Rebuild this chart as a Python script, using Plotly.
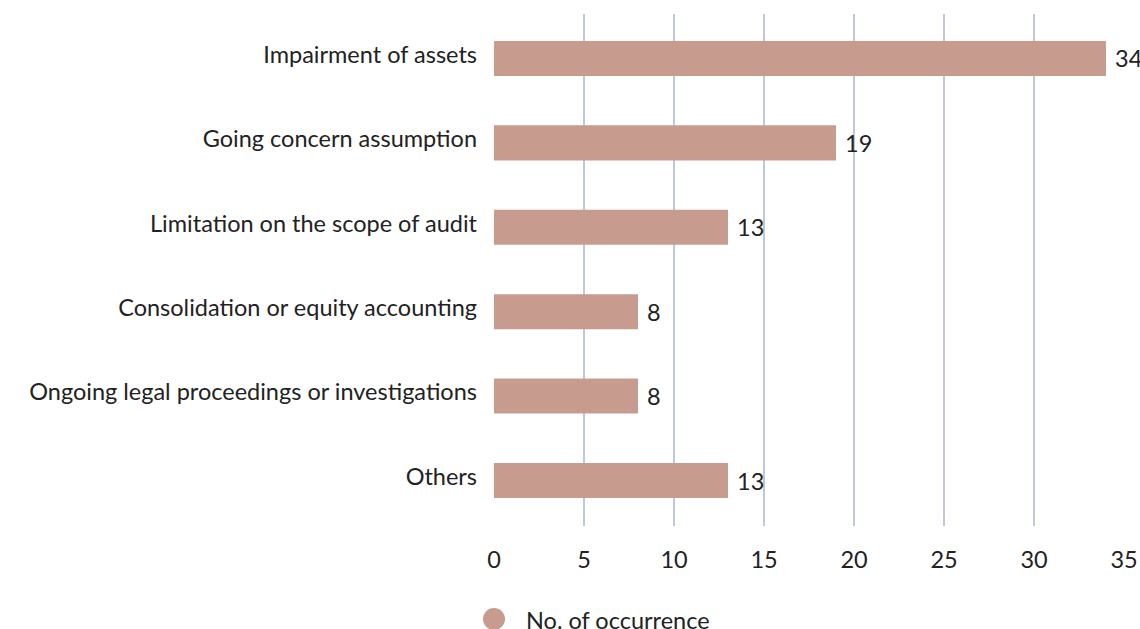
import plotly.graph_objects as go

categories = [
    "Impairment of assets",
    "Going concern assumption",
    "Limitation on the scope of audit",
    "Consolidation or equity accounting",
    "Ongoing legal proceedings or investigations",
    "Others",
]
occurrences = [34, 19, 13, 8, 8, 13]
series_name = "No. of occurrence"
x_ticks = [0, 5, 10, 15, 20, 25, 30, 35]

BAR_COLOR = "#c89b8f"
GRID_COLOR = "#bfc8d7"
TEXT_COLOR = "#222222"
FONT = "Lato, 'Open Sans', sans-serif"
FS = 23.5

fig = go.Figure()
fig.add_trace(go.Bar(
    y=categories,
    x=occurrences,
    orientation="h",
    marker=dict(color=BAR_COLOR, line=dict(width=0)),
    width=0.415,
    text=["\u00a0" + str(v) for v in occurrences],
    textposition="outside",
    textfont=dict(size=FS, color=TEXT_COLOR, family=FONT),
    cliponaxis=False,
    name=series_name,
    showlegend=False,
))

fig.update_layout(
    width=1140,
    height=629,
    margin=dict(l=494, r=16, t=14, b=103, autoexpand=False),
    paper_bgcolor="white",
    plot_bgcolor="white",
    font=dict(family=FONT, size=FS, color=TEXT_COLOR),
    xaxis=dict(
        range=[0, 35],
        tickvals=x_ticks,
        showgrid=True,
        gridcolor=GRID_COLOR,
        gridwidth=1.5,
        zeroline=False,
        showline=False,
        ticks="",
        automargin=False,
        ticklabelstandoff=17,
        tickfont=dict(size=FS, color=TEXT_COLOR),
    ),
    yaxis=dict(
        categoryorder="array",
        categoryarray=categories,
        range=[5.539, -0.527],
        showgrid=False,
        zeroline=False,
        showline=False,
        ticks="",
        automargin=False,
        ticklabelstandoff=16,
        ticklabelshift=4,
        tickfont=dict(size=FS, color=TEXT_COLOR),
    ),
)

# Legend entry: round swatch plus series name below the axis
fig.add_shape(
    type="circle", xref="paper", yref="paper",
    x0=-11 / 630, x1=11 / 630,
    y0=(526 - 630) / 512, y1=(526 - 608) / 512,
    fillcolor=BAR_COLOR, line=dict(width=0),
)
fig.add_annotation(
    xref="paper", yref="paper",
    x=30 / 630, y=(526 - 620) / 512,
    text=series_name, showarrow=False,
    xanchor="left", yanchor="middle",
    font=dict(size=FS, color=TEXT_COLOR, family=FONT),
)

fig.write_html("out.html")
